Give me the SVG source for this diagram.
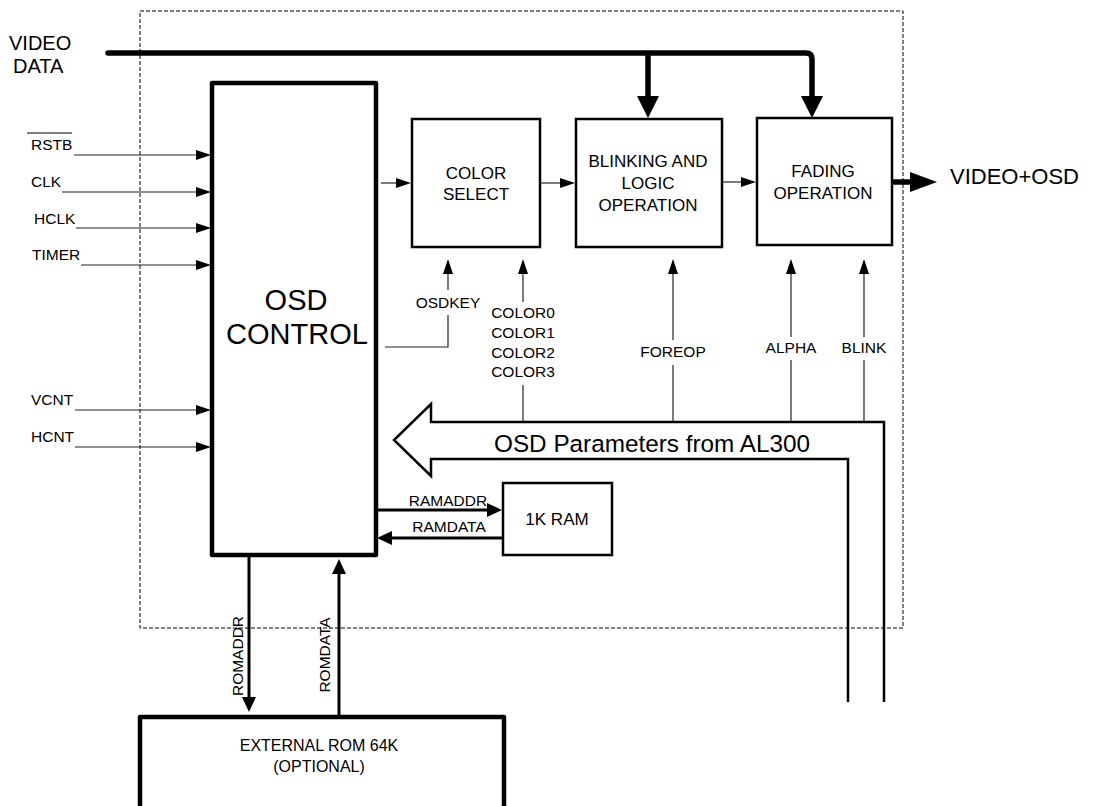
<svg xmlns="http://www.w3.org/2000/svg" width="1095" height="806" viewBox="0 0 1095 806">
<style>
text{font-family:"Liberation Sans",Arial,sans-serif;fill:#000}
.lbl{font-size:15.5px}
.box{fill:#fff;stroke:#000;stroke-width:2.5}
.thick{fill:#fff;stroke:#000;stroke-width:4.5;stroke-linejoin:round}
.thin{fill:none;stroke:#222;stroke-width:1.2}
.med{fill:none;stroke:#000;stroke-width:3}
.bus{fill:none;stroke:#000;stroke-width:5.5;stroke-linejoin:round}
.mid{text-anchor:middle}
</style>
<defs>
<marker id="ms" markerUnits="userSpaceOnUse" markerWidth="16" markerHeight="10" refX="1" refY="5" orient="auto"><path d="M0,0 L15,5 L0,10 z" fill="#000"/></marker>
<marker id="mm" markerUnits="userSpaceOnUse" markerWidth="16" markerHeight="14" refX="1" refY="7" orient="auto"><path d="M0,0 L15,7 L0,14 z" fill="#000"/></marker>
<marker id="mb" markerUnits="userSpaceOnUse" markerWidth="23" markerHeight="22" refX="1" refY="11" orient="auto"><path d="M0,0 L22,11 L0,22 z" fill="#000"/></marker>
<marker id="mo" markerUnits="userSpaceOnUse" markerWidth="28" markerHeight="20" refX="1" refY="10" orient="auto"><path d="M0,0 L27,10 L0,20 z" fill="#000"/></marker>
</defs>

<rect id="boundary" x="140" y="11" width="763" height="617" fill="none" stroke="#000" stroke-width="1" stroke-dasharray="4,2"/>

<g id="connectors">
  <path class="bus" d="M108,53 H806 Q812,53 812,59 V97" stroke-linecap="round" marker-end="url(#mb)"/>
  <path class="bus" d="M648,53 V97" marker-end="url(#mb)"/>
  <path class="bus" d="M890,182 H911" stroke-linecap="round" marker-end="url(#mo)"/>
  <path class="thin" d="M74,155 H197" marker-end="url(#ms)"/>
  <path class="thin" d="M62,192 H197" marker-end="url(#ms)"/>
  <path class="thin" d="M76,228 H197" marker-end="url(#ms)"/>
  <path class="thin" d="M81,265 H197" marker-end="url(#ms)"/>
  <path class="thin" d="M75,410 H197" marker-end="url(#ms)"/>
  <path class="thin" d="M75,447 H197" marker-end="url(#ms)"/>
  <path class="thin" d="M381,183 H397" marker-end="url(#ms)"/>
  <path class="thin" d="M540,183 H561" marker-end="url(#ms)"/>
  <path class="thin" d="M722,182 H742" marker-end="url(#ms)"/>
  <path class="thin" d="M385,347 H448 V315"/>
  <path class="thin" d="M448,290 V273" marker-end="url(#ms)"/>
  <path class="thin" d="M523,422 V385"/>
  <path class="thin" d="M523,302 V273" marker-end="url(#ms)"/>
  <path class="thin" d="M673,422 V365"/>
  <path class="thin" d="M673,340 V273" marker-end="url(#ms)"/>
  <path class="thin" d="M791,422 V360"/>
  <path class="thin" d="M791,337 V273" marker-end="url(#ms)"/>
  <path class="thin" d="M864,422 V360"/>
  <path class="thin" d="M864,337 V273" marker-end="url(#ms)"/>
  <path class="med" d="M376,510 H488" marker-end="url(#mm)"/>
  <path class="med" d="M503,538 H391" marker-end="url(#mm)"/>
  <path class="med" d="M249,555 V698" marker-end="url(#mm)"/>
  <path class="med" d="M339,717 V573" marker-end="url(#mm)"/>
  <g id="param-bus">
    <path d="M884,702 V422 H431 V404 L394,440 L431,476 V459 H848 V702" fill="none" stroke="#000" stroke-width="2.5"/>
    <text x="652" y="452" font-size="24.3" class="mid">OSD Parameters from AL300</text>
  </g>
</g>

<g id="input-labels" class="lbl">
  <text x="9" y="50" font-size="20">VIDEO</text>
  <text x="13" y="73" font-size="20">DATA</text>
  <text x="31" y="150">RSTB</text>
  <line x1="27" y1="133" x2="72" y2="133" stroke="#000" stroke-width="1"/>
  <text x="31" y="187">CLK</text>
  <text x="34" y="224">HCLK</text>
  <text x="32" y="260">TIMER</text>
  <text x="31" y="405">VCNT</text>
  <text x="31" y="442">HCNT</text>
  <text x="950" y="184" font-size="22">VIDEO+OSD</text>
</g>

<g id="signal-labels" class="lbl mid">
  <text x="448" y="308">OSDKEY</text>
  <text x="523" y="318">COLOR0</text>
  <text x="523" y="338">COLOR1</text>
  <text x="523" y="358">COLOR2</text>
  <text x="523" y="377">COLOR3</text>
  <text x="673" y="357">FOREOP</text>
  <text x="791" y="353">ALPHA</text>
  <text x="864" y="353">BLINK</text>
  <text x="448" y="506">RAMADDR</text>
  <text x="449" y="532">RAMDATA</text>
  <text transform="translate(243,656) rotate(-90)">ROMADDR</text>
  <text transform="translate(330,655) rotate(-90)">ROMDATA</text>
</g>

<g id="osd-control">
  <rect class="thick" x="212" y="83" width="164" height="472"/>
  <text x="296" y="310" font-size="29" class="mid">OSD</text>
  <text x="297" y="344" font-size="29" class="mid">CONTROL</text>
</g>

<g id="color-select">
  <rect class="box" x="412" y="119" width="128" height="128"/>
  <text x="476" y="179" font-size="17" class="mid">COLOR</text>
  <text x="476" y="200" font-size="17" class="mid">SELECT</text>
</g>

<g id="blinking">
  <rect class="box" x="576" y="119" width="146" height="128"/>
  <text x="648" y="167" font-size="17" class="mid">BLINKING AND</text>
  <text x="648" y="189" font-size="17" class="mid">LOGIC</text>
  <text x="648" y="211" font-size="17" class="mid">OPERATION</text>
</g>

<g id="fading">
  <rect class="box" x="757" y="118" width="135" height="127"/>
  <text x="823" y="177" font-size="17" class="mid">FADING</text>
  <text x="823" y="199" font-size="17" class="mid">OPERATION</text>
</g>

<g id="ram">
  <rect class="box" x="503" y="483" width="109" height="72"/>
  <text x="557" y="525" font-size="17" class="mid">1K RAM</text>
</g>

<g id="ext-rom">
  <rect class="thick" x="140" y="717" width="364" height="110"/>
  <text x="319" y="751" font-size="16" class="mid">EXTERNAL ROM 64K</text>
  <text x="319" y="772" font-size="16" class="mid">(OPTIONAL)</text>
</g>
</svg>
